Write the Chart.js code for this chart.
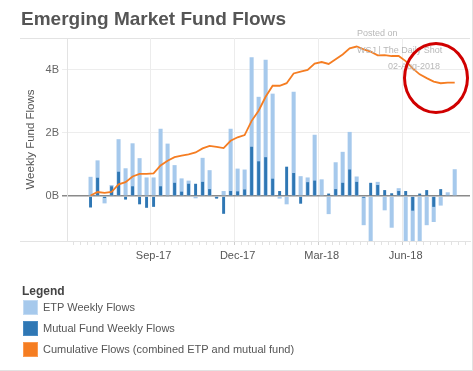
<!DOCTYPE html>
<html>
<head>
<meta charset="utf-8">
<script src="https://cdn.jsdelivr.net/npm/chart.js@4/dist/chart.umd.min.js"></script>
<style>
  html, body { margin: 0; padding: 0; background: #fff; }
  #wrap { position: relative; width: 473px; height: 371px; overflow: hidden; box-sizing: border-box; border-right: 1px solid #e2e2e2; border-bottom: 1px solid #e2e2e2; font-family: "Liberation Sans", Arial, sans-serif; }
  #c { position: absolute; left: 0; top: 0; }
  #title { position: absolute; left: 21px; top: 8px; font: bold 19px/22px "Liberation Sans", Arial, sans-serif; color: #555; white-space: nowrap; }
  .wm { position: absolute; font: 9px/11px "Liberation Sans", Arial, sans-serif; color: #b8b8b8; white-space: nowrap; }
  #circle { position: absolute; left: 403px; top: 42px; width: 66px; height: 72px; border: 3px solid #d00000; border-radius: 50%; box-sizing: border-box; }
  #legendTitle { position: absolute; left: 22px; top: 284px; font: bold 12px/14px "Liberation Sans", Arial, sans-serif; color: #444; }
  .li { position: absolute; left: 23px; height: 15px; }
  .sw { position: absolute; left: 0; top: 0; width: 15px; height: 15px; box-sizing: border-box; }
  .lt { position: absolute; left: 20px; top: 0; font: 11px/15px "Liberation Sans", Arial, sans-serif; color: #555; white-space: nowrap; }
</style>
</head>
<body>
<div id="wrap">
  <canvas id="c" width="473" height="371"></canvas>
  <div id="title">Emerging Market Fund Flows</div>
  <div class="wm" style="left:357px;top:28px;">Posted on</div>
  <div class="wm" style="left:357px;top:45px;">WSJ | The Daily Shot</div>
  <div class="wm" style="left:388px;top:61px;">02-Aug-2018</div>
  <div id="circle"></div>
  <div id="legendTitle">Legend</div>
  <div id="legendItems"></div>
</div>
<script>
// ---- data (billions USD), one entry per week ----
const etpFlows = [0.61, 1.13, -0.23, 0.35, 1.80, 0.88, 1.67, 1.20, 0.59, 0.59,
  2.13, 1.66, 0.98, 0.56, 0.49, -0.07, 1.21, 0.82, -0.05, 0.16,
  2.13, 0.87, 0.84, 4.39, 3.14, 4.31, 3.24, -0.08, -0.26, 3.30,
  0.63, 0.59, 1.94, 0.53, -0.57, 1.07, 1.40, 2.03, 0.62, -0.92,
  -1.60, 0.45, -0.45, -1.00, 0.25, -1.70, -1.60, -1.65, -0.92, -0.82,
  -0.30, 0.12, 0.85];
const mutualFundFlows = [-0.36, 0.58, -0.06, 0.31, 0.77, -0.11, 0.31, -0.26, -0.37, -0.34,
  0.31, -0.02, 0.42, 0.14, 0.39, 0.39, 0.45, 0.22, -0.08, -0.56,
  0.16, 0.15, 0.21, 1.56, 1.10, 1.23, 0.55, 0.16, 0.93, 0.73,
  -0.24, 0.44, 0.49, 0.00, 0.08, 0.22, 0.42, 0.84, 0.45, -0.05,
  0.42, 0.35, 0.19, 0.09, 0.16, 0.16, -0.46, 0.08, 0.19, -0.34,
  0.22, 0.03, 0.00];
const cumulativeFlows = [0.02, 0.13, 0.10, 0.13, 0.37, 0.44, 0.62, 0.70, 0.70, 0.72,
  0.97, 1.12, 1.23, 1.28, 1.32, 1.38, 1.51, 1.59, 1.56, 1.52,
  1.75, 1.86, 1.93, 2.38, 2.70, 3.14, 3.49, 3.49, 3.57, 3.88,
  3.94, 3.99, 4.19, 4.24, 4.18, 4.33, 4.48, 4.67, 4.73, 4.64,
  4.57, 4.45, 4.46, 4.43, 4.43, 4.27, 4.04, 3.85, 3.73, 3.62,
  3.57, 3.59, 3.59];
const monthLabels = ['Sep-17', 'Dec-17', 'Mar-18', 'Jun-18'];
const monthWeekIndex = [9, 21, 33, 45];
const yTickValues = [0, 2, 4];
const seriesNames = ['ETP Weekly Flows', 'Mutual Fund Weekly Flows', 'Cumulative Flows (combined ETP and mutual fund)'];

const COL_ETP = '#a6c9ec', COL_MF = '#2f77b4', COL_CUM = '#f57d22';

const pts = arr => arr.map((v, i) => ({ x: i, y: v }));

// legend (HTML)
const legendColors = [COL_ETP, COL_MF, COL_CUM];
const legendBorders = ['#c2daf2', '#4a8bc2', '#fb9a50'];
const li = document.getElementById('legendItems');
seriesNames.forEach((name, k) => {
  const d = document.createElement('div');
  d.className = 'li';
  d.style.top = (300 + k * 21) + 'px';
  d.innerHTML = '<div class="sw" style="background:' + legendColors[k] + ';border:1px solid ' + legendBorders[k] + '"></div><div class="lt">' + name + '</div>';
  li.appendChild(d);
});

const framePlugin = {
  id: 'frame',
  beforeDraw(chart) {
    const { ctx, chartArea: a } = chart;
    ctx.save();
    ctx.strokeStyle = '#e3e3e3';
    ctx.lineWidth = 1;
    ctx.beginPath();
    ctx.moveTo(20, a.top + 0.5); ctx.lineTo(a.right, a.top + 0.5);
    ctx.moveTo(20, a.bottom + 0.5); ctx.lineTo(a.left, a.bottom + 0.5);
    ctx.stroke();
    ctx.restore();
  }
};

const allWeekTicks = [];
for (let i = -2; i <= 53; i++) allWeekTicks.push(i);

new Chart(document.getElementById('c'), {
  data: {
    datasets: [
      { type: 'line', label: seriesNames[2], data: pts(cumulativeFlows), borderColor: COL_CUM, borderWidth: 1.8, pointRadius: 0, tension: 0, order: 0 },
      { type: 'bar', label: seriesNames[1], data: pts(mutualFundFlows), backgroundColor: COL_MF, categoryPercentage: 1, barPercentage: 0.42, inflateAmount: 0, order: 1 },
      { type: 'bar', label: seriesNames[0], data: pts(etpFlows), backgroundColor: COL_ETP, categoryPercentage: 1, barPercentage: 0.58, inflateAmount: 0, order: 2 }
    ]
  },
  options: {
    responsive: false,
    animation: false,
    layout: { padding: { left: 20, top: 38, right: 3, bottom: 100 } },
    datasets: { bar: { grouped: false } },
    plugins: { legend: { display: false }, tooltip: { enabled: false } },
    scales: {
      x: {
        type: 'linear',
        min: -2.85,
        max: 53.67,
        afterBuildTicks: axis => { axis.ticks = allWeekTicks.map(v => ({ value: v })); },
        afterFit: s => { s.height = 30; },
        ticks: {
          autoSkip: false, maxRotation: 0, padding: 4,
          font: { family: '"Liberation Sans", Arial, sans-serif', size: 11 },
          color: '#555',
          callback: v => { const k = monthWeekIndex.indexOf(v); return k >= 0 ? monthLabels[k] : ''; }
        },
        grid: {
          color: ctx => (ctx.tick && monthWeekIndex.includes(ctx.tick.value)) ? '#ececec' : 'rgba(0,0,0,0)',
          tickColor: ctx => (ctx.tick && monthWeekIndex.includes(ctx.tick.value)) ? '#cfcfcf' : '#e2e2e2',
          tickLength: 4
        },
        border: { color: '#e3e3e3' }
      },
      y: {
        min: -1.42,
        max: 5.0,
        afterBuildTicks: axis => { axis.ticks = yTickValues.map(v => ({ value: v })); },
        afterFit: s => { s.width = 47; },
        ticks: {
          padding: 3,
          font: { family: '"Liberation Sans", Arial, sans-serif', size: 11 },
          color: '#666',
          callback: v => v + 'B'
        },
        grid: {
          color: ctx => (ctx.tick && ctx.tick.value === 0) ? '#8a8a8a' : '#ededed',
          lineWidth: ctx => (ctx.tick && ctx.tick.value === 0) ? 1.5 : 1,
          tickLength: 5
        },
        border: { color: '#e3e3e3' },
        title: {
          display: true, text: 'Weekly Fund Flows', color: '#555',
          font: { family: '"Liberation Sans", Arial, sans-serif', size: 11.5 }
        }
      }
    }
  },
  plugins: [framePlugin]
});
</script>
</body>
</html>
